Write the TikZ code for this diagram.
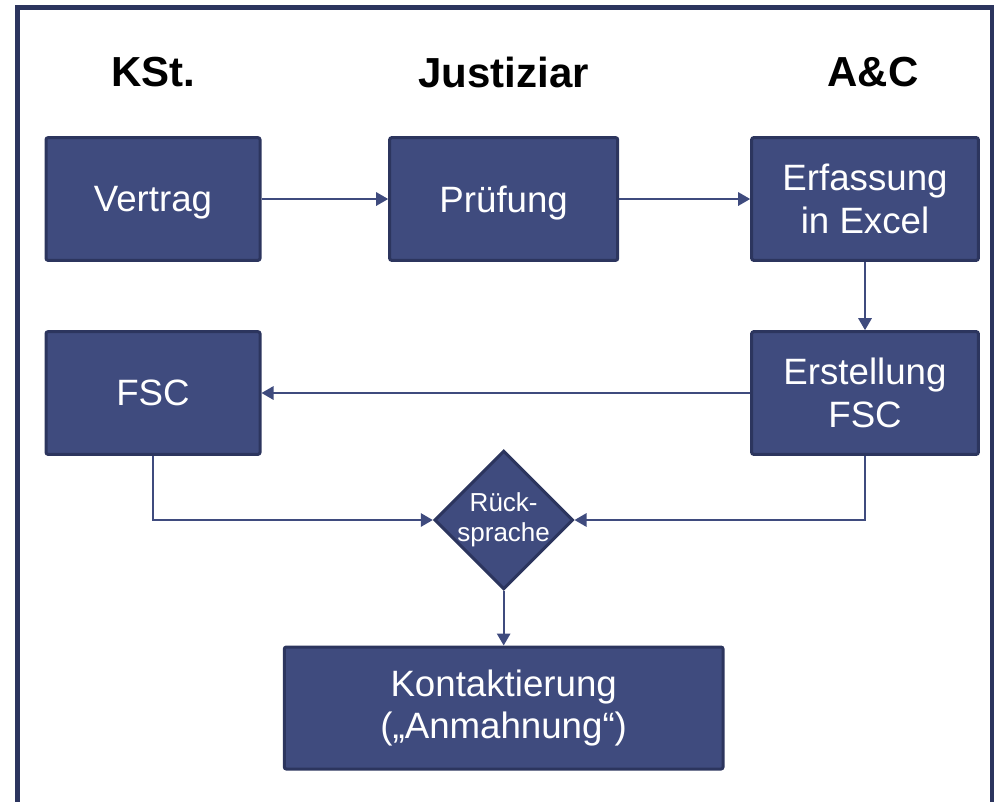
\documentclass[tikz,border=0pt]{standalone}
\definecolor{theme}{RGB}{63,75,126}
\definecolor{themedark}{RGB}{44,53,94}
\usepackage{fontspec}
\setmainfont{Liberation Sans}
\usetikzlibrary{shapes.geometric,arrows.meta}

\begin{document}
\begin{tikzpicture}[x=0.75pt,y=-0.75pt,
    box/.style={draw=themedark,fill=theme,line width=2.25pt,rounded corners=1.5pt,text=white,
      align=center,minimum width=160.5pt,minimum height=92pt,font=\fontsize{27.5}{32}\selectfont},
    head/.style={font=\fontsize{31.5}{38}\selectfont\bfseries},
    link/.style={theme,line width=1.5pt,-{Triangle[length=9pt,width=10pt]}}]
      \useasboundingbox (0,0) rectangle (994,801);
      \draw[themedark,line width=3.5pt] (17.5,7.5) rectangle (992,840);
      % first row
      \node[box,text depth=0pt] (vertrag) at (153,199) {Vertrag};
      \node[box,text depth=0pt,right of=vertrag,node distance=263pt,minimum width=171pt] (pruefung) {Prüfung};
      \node[box,right of=pruefung,node distance=271pt,minimum width=170pt] (erfassung) {Erfassung\\in Excel};
      % headings
      \node[head,above of=vertrag,node distance=95pt]           (kst)  {KSt.};
      \node[head,above of=pruefung,node distance=95pt]          (just) {Justiziar};
      \node[head,above of=erfassung,node distance=95pt,xshift=6pt] (ac)   {A\&C};
      % second row
      \node[box,below of=vertrag,node distance=145.5pt] (fsc) {FSC};
      \node[box,below of=erfassung,node distance=145.5pt,minimum width=170pt] (erstellung) {Erstellung\\FSC};
      \node[diamond,draw=themedark,fill=theme,line width=2.25pt,text=white,align=center,inner sep=-1.5pt,
            font=\fontsize{19.5}{22.5}\selectfont,below of=pruefung,node distance=240.75pt] (rueck) {Rück-\\sprache};
      \node[box,below of=rueck,node distance=141pt,minimum width=329pt,minimum height=91.5pt] (kontakt) {Kontaktierung\\(„Anmahnung“)};
      \draw[link] (vertrag) -- (pruefung);
      \draw[link] (pruefung) -- (erfassung);
      \draw[link] (erfassung) -- (erstellung);
      \draw[link] (erstellung) -- (fsc);
      \draw[link] (fsc.south) |- (rueck.west);
      \draw[link] (erstellung.south) |- (rueck.east);
      \draw[link] (rueck) -- (kontakt);
    \end{tikzpicture}
\end{document}
